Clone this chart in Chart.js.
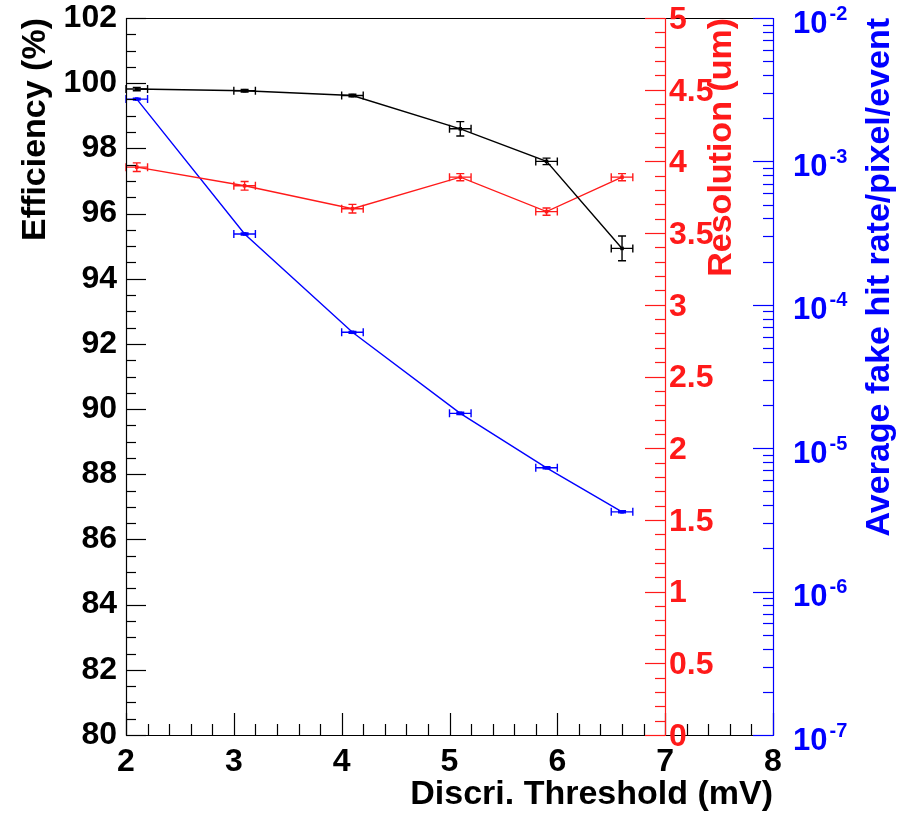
<!DOCTYPE html>
<html>
<head>
<meta charset="utf-8">
<script src="https://cdn.jsdelivr.net/npm/chart.js@4.4.0/dist/chart.umd.min.js"></script>
<style>
  body { margin: 0; background: #fff; }
</style>
</head>
<body>
<canvas id="plot" width="906" height="814"></canvas>
<script>
// measured points (x = discriminator threshold in mV)
const thresholds = [2.1, 3.1, 4.1, 5.1, 5.9, 6.6];
const thresholdErr = [0.1, 0.1, 0.1, 0.1, 0.1, 0.1];
const efficiency = [99.82, 99.77, 99.62, 98.6, 97.6, 94.93];
const efficiencyErr = [0.05, 0.04, 0.04, 0.22, 0.1, 0.38];
const resolution = [3.96, 3.83, 3.67, 3.89, 3.65, 3.89];
const resolutionErr = [0.03, 0.03, 0.03, 0.025, 0.025, 0.025];
const fakeRate = [2.72e-3, 3.12e-4, 6.43e-5, 1.75e-5, 7.3e-6, 3.6e-6];
const fakeRateErr = [4e-5, 5e-6, 1e-6, 3e-7, 1.2e-7, 6e-8];

// tick labels of the two right hand axes
const resLabels = ['0', '0.5', '1', '1.5', '2', '2.5', '3', '3.5', '4', '4.5', '5'];
const rateExponents = [-7, -6, -5, -4, -3, -2];

const FONT = "'Liberation Sans', Arial, Helvetica, sans-serif";
const RED = '#ff1a1a';
const BLUE = '#0000ff';

Chart.defaults.font.family = FONT;

function pts(ys) {
  return thresholds.map((x, i) => ({ x: x, y: ys[i] }));
}

function hline(ctx, x1, x2, y) {
  ctx.beginPath();
  ctx.moveTo(x1, Math.round(y) + 0.5);
  ctx.lineTo(x2, Math.round(y) + 0.5);
  ctx.stroke();
}
function vline(ctx, x, y1, y2) {
  ctx.beginPath();
  ctx.moveTo(Math.round(x) + 0.5, y1);
  ctx.lineTo(Math.round(x) + 0.5, y2);
  ctx.stroke();
}

// ROOT style error bars with small end caps
const errorBars = {
  id: 'errorBars',
  afterDatasetsDraw(chart) {
    const ctx = chart.ctx;
    const xs = chart.scales.x;
    chart.data.datasets.forEach(ds => {
      const ys = chart.scales[ds.yAxisID];
      ctx.save();
      ctx.strokeStyle = ds.borderColor;
      ctx.lineWidth = 1.4;
      ds.data.forEach((p, i) => {
        const px = xs.getPixelForValue(p.x);
        const py = ys.getPixelForValue(p.y);
        const xl = xs.getPixelForValue(p.x - ds.xErr[i]);
        const xr = xs.getPixelForValue(p.x + ds.xErr[i]);
        const yt = ys.getPixelForValue(p.y + ds.yErr[i]);
        const yb = ys.getPixelForValue(p.y - ds.yErr[i]);
        ctx.beginPath();
        ctx.moveTo(xl, py); ctx.lineTo(xr, py);
        ctx.moveTo(xl, py - 4); ctx.lineTo(xl, py + 4);
        ctx.moveTo(xr, py - 4); ctx.lineTo(xr, py + 4);
        ctx.moveTo(px, yt); ctx.lineTo(px, yb);
        ctx.moveTo(px - 4, yt); ctx.lineTo(px + 4, yt);
        ctx.moveTo(px - 4, yb); ctx.lineTo(px + 4, yb);
        ctx.stroke();
      });
      ctx.restore();
    });
  }
};

// frame, inward ticks, and the red / blue axes
const frame = {
  id: 'frame',
  afterDraw(chart) {
    const { ctx, chartArea: a, scales } = chart;
    const xs = scales.x, ye = scales.y, yr = scales.yRes, yl = scales.yRate;
    ctx.save();
    ctx.lineWidth = 1.2;

    // left axis (efficiency)
    ctx.strokeStyle = '#000';
    vline(ctx, a.left, a.top, a.bottom + 1);
    for (let i = 0; i <= 44; i++) {
      const p = ye.getPixelForValue(80 + i * 0.5);
      hline(ctx, a.left, a.left + (i % 4 === 0 ? 20 : 10), p);
    }
    // bottom axis
    hline(ctx, a.left, a.right, a.bottom);
    for (let i = 0; i <= 30; i++) {
      const p = xs.getPixelForValue(2 + i * 0.2);
      vline(ctx, p, a.bottom, a.bottom - (i % 5 === 0 ? 22 : 11));
    }
    // top of the frame
    hline(ctx, a.left, a.right, a.top);

    // red axis at x = 7
    const xr = Math.round(xs.getPixelForValue(7));
    ctx.strokeStyle = RED;
    vline(ctx, xr, a.top, a.bottom + 1);
    for (let i = 0; i <= 50; i++) {
      const p = yr.getPixelForValue(i * 0.1);
      hline(ctx, xr - (i % 5 === 0 ? 20 : 10), xr, p);
    }
    ctx.fillStyle = RED;
    ctx.font = 'bold 32px ' + FONT;
    ctx.textAlign = 'left';
    ctx.textBaseline = 'middle';
    resLabels.forEach(t => {
      ctx.fillText(t, xr + 4, yr.getPixelForValue(parseFloat(t)) + 2);
    });
    ctx.save();
    ctx.translate(722, a.top);
    ctx.rotate(-Math.PI / 2);
    ctx.textAlign = 'right';
    ctx.font = 'bold 34px ' + FONT;
    ctx.fillText('Resolution (um)', 0, 0);
    ctx.restore();

    // blue log axis on the right
    ctx.strokeStyle = BLUE;
    vline(ctx, a.right, a.top, a.bottom + 1);
    rateExponents.forEach(e => {
      for (let m = 1; m <= 9; m++) {
        if (e === -2 && m > 1) break;
        const p = yl.getPixelForValue(m * Math.pow(10, e));
        hline(ctx, a.right - (m === 1 ? 20 : 10), a.right, p);
      }
    });
    ctx.fillStyle = BLUE;
    rateExponents.forEach(e => {
      const p = yl.getPixelForValue(Math.pow(10, e));
      ctx.font = 'bold 31px ' + FONT;
      ctx.textAlign = 'left';
      ctx.fillText('10', a.right + 20, p + 6);
      const w = ctx.measureText('10').width;
      ctx.font = 'bold 20px ' + FONT;
      ctx.fillText(String(e), a.right + 22 + w, p - 4);
    });
    ctx.save();
    ctx.translate(880, a.top);
    ctx.rotate(-Math.PI / 2);
    ctx.textAlign = 'right';
    ctx.font = 'bold 34px ' + FONT;
    ctx.fillText('Average fake hit rate/pixel/event', 0, 0);
    ctx.restore();

    ctx.restore();
  }
};

new Chart(document.getElementById('plot'), {
  type: 'scatter',
  data: {
    datasets: [{
      label: 'Efficiency',
      data: pts(efficiency),
      xErr: thresholdErr,
      yErr: efficiencyErr,
      yAxisID: 'y',
      showLine: true,
      borderColor: '#000',
      backgroundColor: '#000',
      borderWidth: 1.4,
      pointStyle: 'rect',
      pointRadius: 2.5,
      pointBorderWidth: 0
    }, {
      label: 'Resolution',
      data: pts(resolution),
      xErr: thresholdErr,
      yErr: resolutionErr,
      yAxisID: 'yRes',
      showLine: true,
      borderColor: RED,
      backgroundColor: RED,
      borderWidth: 1.4,
      pointStyle: 'rect',
      pointRadius: 2.5,
      pointBorderWidth: 0
    }, {
      label: 'Fake hit rate',
      data: pts(fakeRate),
      xErr: thresholdErr,
      yErr: fakeRateErr,
      yAxisID: 'yRate',
      showLine: true,
      borderColor: BLUE,
      backgroundColor: BLUE,
      borderWidth: 1.4,
      pointStyle: 'rect',
      pointRadius: 2.5,
      pointBorderWidth: 0
    }]
  },
  options: {
    responsive: false,
    animation: false,
    layout: { padding: { top: 18, right: 133, left: 0, bottom: 0 } },
    plugins: { legend: { display: false }, tooltip: { enabled: false } },
    scales: {
      x: {
        type: 'linear',
        min: 2,
        max: 8,
        afterFit(s) { s.height = 79; s.paddingLeft = 0; s.paddingRight = 0; },
        grid: { display: false, drawTicks: false },
        border: { display: false },
        ticks: {
          stepSize: 1,
          autoSkip: false,
          padding: 8,
          color: '#000',
          font: { size: 32, weight: 'bold' }
        },
        title: {
          display: true,
          text: 'Discri. Threshold (mV)',
          align: 'end',
          color: '#000',
          padding: { top: 0, bottom: -1 },
          font: { size: 34, weight: 'bold' }
        }
      },
      y: {
        position: 'left',
        min: 80,
        max: 102,
        afterFit(s) { s.width = 126; s.paddingTop = 0; s.paddingBottom = 0; },
        grid: { display: false, drawTicks: false },
        border: { display: false },
        ticks: {
          stepSize: 2,
          autoSkip: false,
          padding: 9,
          color: '#000',
          font: { size: 32, weight: 'bold' }
        },
        title: {
          display: true,
          text: 'Efficiency (%)',
          align: 'end',
          color: '#000',
          padding: { top: 15, bottom: 0 },
          font: { size: 34, weight: 'bold' }
        }
      },
      yRes: {
        position: 'right',
        display: false,
        min: 0,
        max: 5
      },
      yRate: {
        position: 'right',
        type: 'logarithmic',
        display: false,
        min: 1e-7,
        max: 1e-2
      }
    }
  },
  plugins: [errorBars, frame]
});
</script>
</body>
</html>
